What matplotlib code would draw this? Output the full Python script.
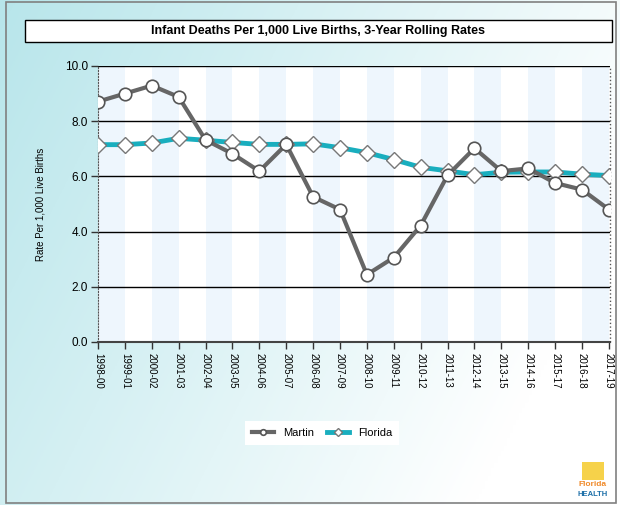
import numpy as np
import matplotlib
matplotlib.use("Agg")
import matplotlib.pyplot as plt
from matplotlib.patches import Rectangle

periods = ["1998-00", "1999-01", "2000-02", "2001-03", "2002-04", "2003-05", "2004-06",
           "2005-07", "2006-08", "2007-09", "2008-10", "2009-11", "2010-12", "2011-13",
           "2012-14", "2013-15", "2014-16", "2015-17", "2016-18", "2017-19"]
martin = [8.71, 9.0, 9.29, 8.88, 7.32, 6.82, 6.19, 7.16, 5.26, 4.8, 2.44, 3.06,
          4.22, 6.04, 7.02, 6.19, 6.29, 5.76, 5.52, 4.8]
florida = [7.15, 7.15, 7.21, 7.38, 7.31, 7.23, 7.16, 7.16, 7.18, 7.04, 6.86, 6.61,
           6.33, 6.2, 6.06, 6.15, 6.16, 6.16, 6.08, 6.03]
yticks = [0.0, 2.0, 4.0, 6.0, 8.0, 10.0]

W, H = 620, 505
fig = plt.figure(figsize=(W / 100, H / 100), dpi=100)

# gradient background
bg = fig.add_axes([0, 0, 1, 1], zorder=-10)
xx, yy = np.meshgrid(np.linspace(0, 1, 200), np.linspace(0, 1, 200))
t = np.clip(0.85 * xx + 0.35 * yy, 0, 1)
c0 = np.array([0.72, 0.90, 0.92])
c1 = np.array([1.0, 1.0, 1.0])
img = c0[None, None, :] * (1 - t[..., None]) + c1[None, None, :] * t[..., None]
bg.imshow(img, extent=[0, 1, 0, 1], aspect="auto", origin="upper")
bg.set_xlim(0, 1)
bg.set_ylim(0, 1)
bg.axis("off")
bg.add_patch(Rectangle((6 / W, 2 / H), (W - 10) / W, (H - 4) / H, fill=False,
                       edgecolor="#808080", lw=1.2, transform=bg.transAxes))
bg.add_patch(Rectangle((25 / W, 1 - 42 / H), (612 - 25) / W, 22 / H, facecolor="white",
                       edgecolor="black", lw=1.0, transform=bg.transAxes))
bg.text(318 / W, 1 - 31 / H, "Infant Deaths Per 1,000 Live Births, 3-Year Rolling Rates",
        ha="center", va="center", fontsize=9, fontweight="bold", family="Liberation Sans",
        transform=bg.transAxes)

# logo approximation
lx = 582 / W
bg.add_patch(Rectangle((lx, 1 - 480 / H), 22 / W, 18 / H, facecolor="#F6D24A",
                       edgecolor="none", transform=bg.transAxes))
bg.text(593 / W, 1 - 484 / H, "Florida", ha="center", va="center", fontsize=6,
        color="#F08A2A", family="Liberation Sans", transform=bg.transAxes, fontweight="bold")
bg.text(593 / W, 1 - 494 / H, "HEALTH", ha="center", va="center", fontsize=5.5,
        color="#1C6FA8", family="Liberation Sans", transform=bg.transAxes, fontweight="bold")

ax = fig.add_axes([98 / W, 1 - 342 / H, (610 - 98) / W, (342 - 66) / H])
x = np.arange(len(periods))
ax.set_xlim(0, len(periods) - 1 + 0.04)
ax.set_ylim(0, 10)
ax.set_facecolor("white")
for i in range(0, len(periods) - 1, 2):
    ax.axvspan(i, i + 1, color="#EEF6FD", lw=0, zorder=0)
for yv in yticks[1:]:
    ax.axhline(yv, color="black", lw=1.0, zorder=1)

ax.plot(x, martin, color="#666666", lw=3, marker="o", ms=9, mfc="white",
        mec="#555555", mew=1.2, zorder=4, label="Martin")
ax.plot(x, florida, color="#19AEBE", lw=3.5, marker="D", ms=8, mfc="white",
        mec="#777777", mew=1.0, zorder=3, label="Florida")
ax.set_yticks(yticks)
ax.set_yticklabels([f"{v:.1f}" for v in yticks], fontsize=8.5, family="Liberation Sans")
ax.set_xticks(x)
ax.set_xticklabels(periods, rotation=270, fontsize=7, family="Liberation Sans")
ax.tick_params(axis="x", length=5, width=1, color="#333333", pad=3)
ax.tick_params(axis="y", length=5, width=1, color="#333333", pad=2)
for s in ["top", "right"]:
    ax.spines[s].set_visible(False)
ax.spines["left"].set_linestyle(":")
ax.spines["left"].set_color("#555555")
ax.spines["bottom"].set_color("#444444")
ax.spines["bottom"].set_linewidth(1.5)
ax.plot([1, 1], [0, 1], transform=ax.transAxes, ls=":", color="#555555", lw=1, clip_on=False)
ax.set_ylabel("Rate Per 1,000 Live Births", fontsize=7, family="Liberation Sans", labelpad=14)

fig.legend(loc="center", bbox_to_anchor=(322 / W, 1 - 433 / H), ncol=2, frameon=True,
           fancybox=False, edgecolor="none", facecolor="white", framealpha=1,
           prop={"family": "Liberation Sans", "size": 8}, handlelength=2.0,
           markerscale=0.45, columnspacing=1.2, borderpad=0.6)

fig.savefig("out.png", dpi=100)
